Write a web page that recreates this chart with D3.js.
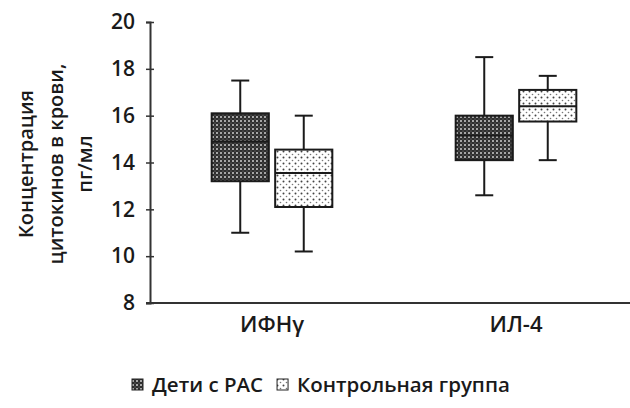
<!DOCTYPE html>
<html><head><meta charset="utf-8">
<script src="https://cdn.jsdelivr.net/npm/d3@7"></script>
<style>body{margin:0;background:#fff}svg{display:block}text{font-family:"Open Sans",Lato,sans-serif;font-weight:600;fill:#1a1a1a}</style>
</head><body><svg id="c" width="630" height="408"></svg>
<script>
const categories = ["ИФНγ", "ИЛ-4"];
const series = ["Дети с РАС", "Контрольная группа"];
// [min, q1, median, q3, max] per category
const childrenRAS = [[11.0, 13.2, 14.9, 16.1, 17.5], [12.6, 14.1, 15.15, 16.0, 18.5]];
const controlGroup = [[10.2, 12.1, 13.55, 14.55, 16.0], [14.1, 15.75, 16.4, 17.1, 17.7]];
const yTicks = [8, 10, 12, 14, 16, 18, 20];
const yLabelLines = ["Концентрация", "цитокинов в крови,", "пг/мл"];

const svg = d3.select("#c");
const defs = svg.append("defs");
const pd = defs.append("pattern").attr("id","pDark").attr("width",4).attr("height",4).attr("patternUnits","userSpaceOnUse");
pd.append("rect").attr("width",4).attr("height",4).attr("fill","#2e2e2e");
pd.append("circle").attr("cx",1).attr("cy",1).attr("r",0.95).attr("fill","#d8d8d8");
pd.append("circle").attr("cx",3).attr("cy",3).attr("r",0.55).attr("fill","#888");
const pl = defs.append("pattern").attr("id","pLight").attr("width",6).attr("height",6).attr("patternUnits","userSpaceOnUse");
pl.append("rect").attr("width",6).attr("height",6).attr("fill","#fff");
pl.append("circle").attr("cx",1.5).attr("cy",1.5).attr("r",1).attr("fill","#444");
pl.append("circle").attr("cx",4.5).attr("cy",4.5).attr("r",0.8).attr("fill","#777");
const fills = ["url(#pDark)", "url(#pLight)"];

const y = d3.scaleLinear().domain([8, 20]).range([303, 22]);
const x0 = d3.scaleBand().domain(categories).range([150, 638]);
const x1 = d3.scaleBand().domain(series).range([0, 127]);
const boxW = x1.bandwidth() * 0.9;

// y axis
const yAxis = svg.append("g").attr("transform","translate(150,0)")
  .call(d3.axisLeft(y).tickValues(yTicks).tickSizeOuter(0).tickSize(4).tickPadding(11));
yAxis.select(".domain").attr("stroke","#333").attr("stroke-width",2);
yAxis.selectAll(".tick line").attr("x1",-4).attr("x2",4).attr("stroke","#333").attr("stroke-width",1.5);
yAxis.selectAll(".tick text").style("font-size","21px").style("font-family","'Open Sans'").style("font-weight","600").attr("fill","#1a1a1a");

// x axis
const xAxis = svg.append("g").attr("transform","translate(0,303)")
  .call(d3.axisBottom(x0).tickSize(0).tickPadding(13));
xAxis.select(".domain").attr("d","M146,0H630").attr("stroke","#333").attr("stroke-width",2);
xAxis.selectAll(".tick text").style("font-size","22px").style("font-family","'Open Sans'").style("font-weight","600").attr("fill","#1a1a1a");

// y label
const yl = svg.append("text").attr("transform","translate(33,164) rotate(-90)")
  .attr("text-anchor","middle").style("font-size","20px");
yLabelLines.forEach((t,i)=>yl.append("tspan").attr("x",0).attr("y", i*29.5).text(t));

// boxes
const data = [childrenRAS, controlGroup];
categories.forEach((cat, ci) => {
  series.forEach((s, si) => {
    const [mn, q1, md, q3, mx] = data[si][ci];
    const cx = x0(cat) + x0.bandwidth()/2 - 63.5 + x1(s) + x1.bandwidth()/2;
    const g = svg.append("g").attr("stroke","#1a1a1a").attr("stroke-width",2);
    g.append("line").attr("x1",cx).attr("x2",cx).attr("y1",y(mx)).attr("y2",y(q3));
    g.append("line").attr("x1",cx).attr("x2",cx).attr("y1",y(q1)).attr("y2",y(mn));
    g.append("line").attr("x1",cx-9).attr("x2",cx+9).attr("y1",y(mx)).attr("y2",y(mx));
    g.append("line").attr("x1",cx-9).attr("x2",cx+9).attr("y1",y(mn)).attr("y2",y(mn));
    g.append("rect").attr("x",cx-boxW/2).attr("width",boxW).attr("y",y(q3)).attr("height",y(q1)-y(q3)).attr("fill",fills[si]);
    g.append("line").attr("x1",cx-boxW/2).attr("x2",cx+boxW/2).attr("y1",y(md)).attr("y2",y(md));
  });
});

// legend
const leg = svg.append("g");
let lx = 132;
series.forEach((s, si) => {
  leg.append("rect").attr("x",lx).attr("y",379).attr("width",11).attr("height",11).attr("fill",fills[si]).attr("stroke","#222").attr("stroke-width",1);
  const t = leg.append("text").attr("x",lx+20).attr("y",392).style("font-size","20.5px").text(s);
  lx = lx + 20 + t.node().getComputedTextLength() + 14;
});
</script></body></html>
